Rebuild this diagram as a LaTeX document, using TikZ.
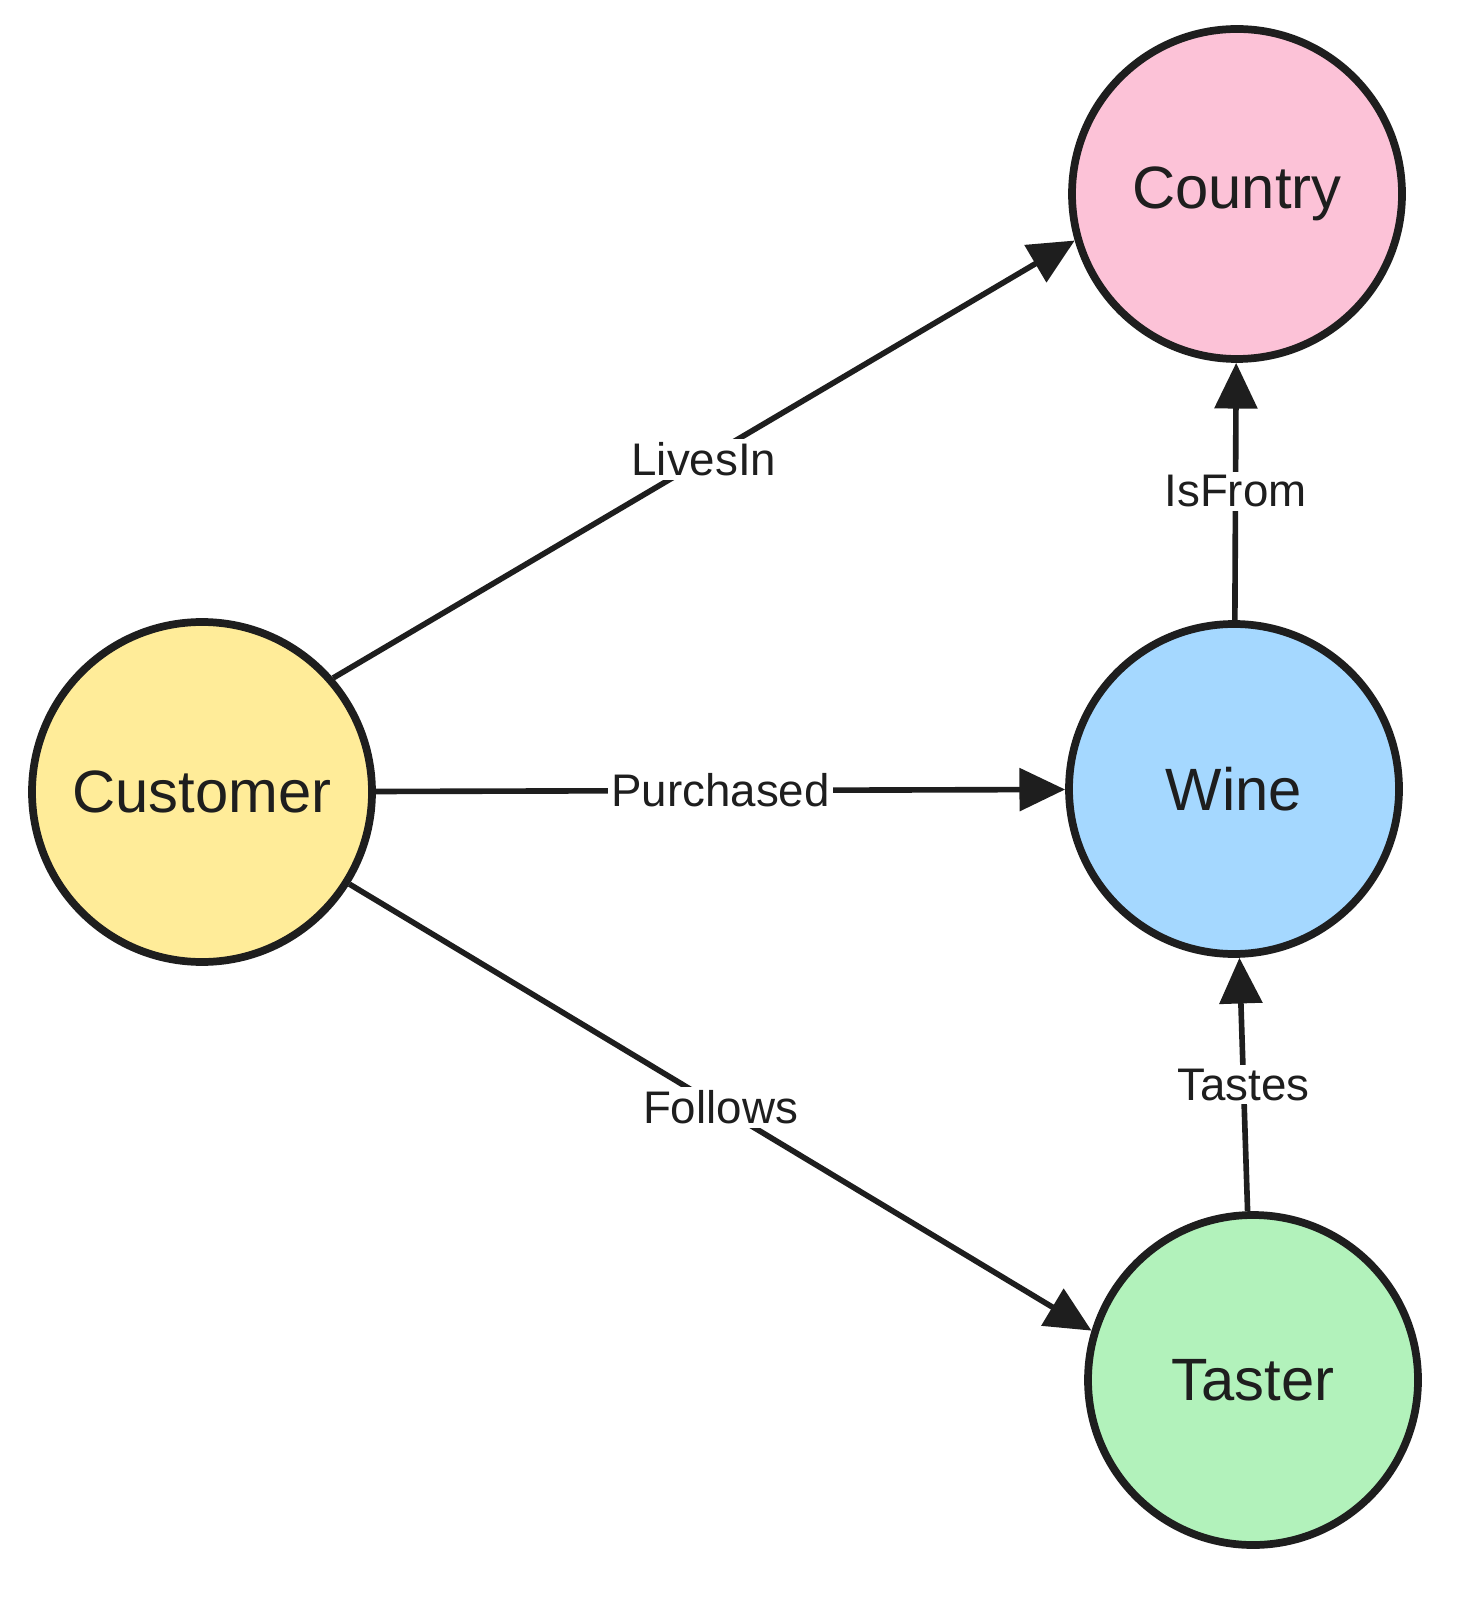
\documentclass[tikz,border=0pt]{standalone}
\usepackage{fontspec}
\setmainfont{Liberation Sans}
\usetikzlibrary{arrows.meta}
\definecolor{ink}{HTML}{1E1E1E}
\definecolor{pinkfill}{HTML}{FCC2D7}
\definecolor{yellowfill}{HTML}{FFEC99}
\definecolor{bluefill}{HTML}{A5D8FF}
\definecolor{greenfill}{HTML}{B2F2BB}
\begin{document}
\begin{tikzpicture}[
  entity/.style={circle, draw=ink, line width=2.2pt, minimum size=3.3cm, inner sep=0pt,
    text=ink, font=\fontsize{17}{20}\selectfont},
  rel/.style={draw=ink, line width=1.6pt, -{Triangle[length=13pt, width=12pt]}},
  tag/.style={fill=white, text=ink, inner sep=1pt, font=\fontsize{13}{15}\selectfont}
]
\useasboundingbox (0,0) rectangle (14.82,-16.06);
\node [entity, fill=pinkfill] (country) at (12.37,-1.94) {Country};
\node [entity, fill=yellowfill, minimum size=3.4cm] (customer) at (2.02,-7.92) {Customer};
\node [entity, fill=bluefill] (wine) at (12.34,-7.89) {Wine};
\node [entity, fill=greenfill] (taster) at (12.53,-13.80) {Taster};
\draw [rel] (customer.41) -- node [tag] {LivesIn} (country.196);
\draw [rel] (customer) -- node [tag] {Purchased} (wine);
\draw [rel] (customer.-32) -- node [tag] {Follows} (taster.163);
\draw [rel] (wine) -- node [tag] {IsFrom} (country);
\draw [rel] (taster) -- node [tag] {Tastes} (wine);
\end{tikzpicture}
\end{document}
